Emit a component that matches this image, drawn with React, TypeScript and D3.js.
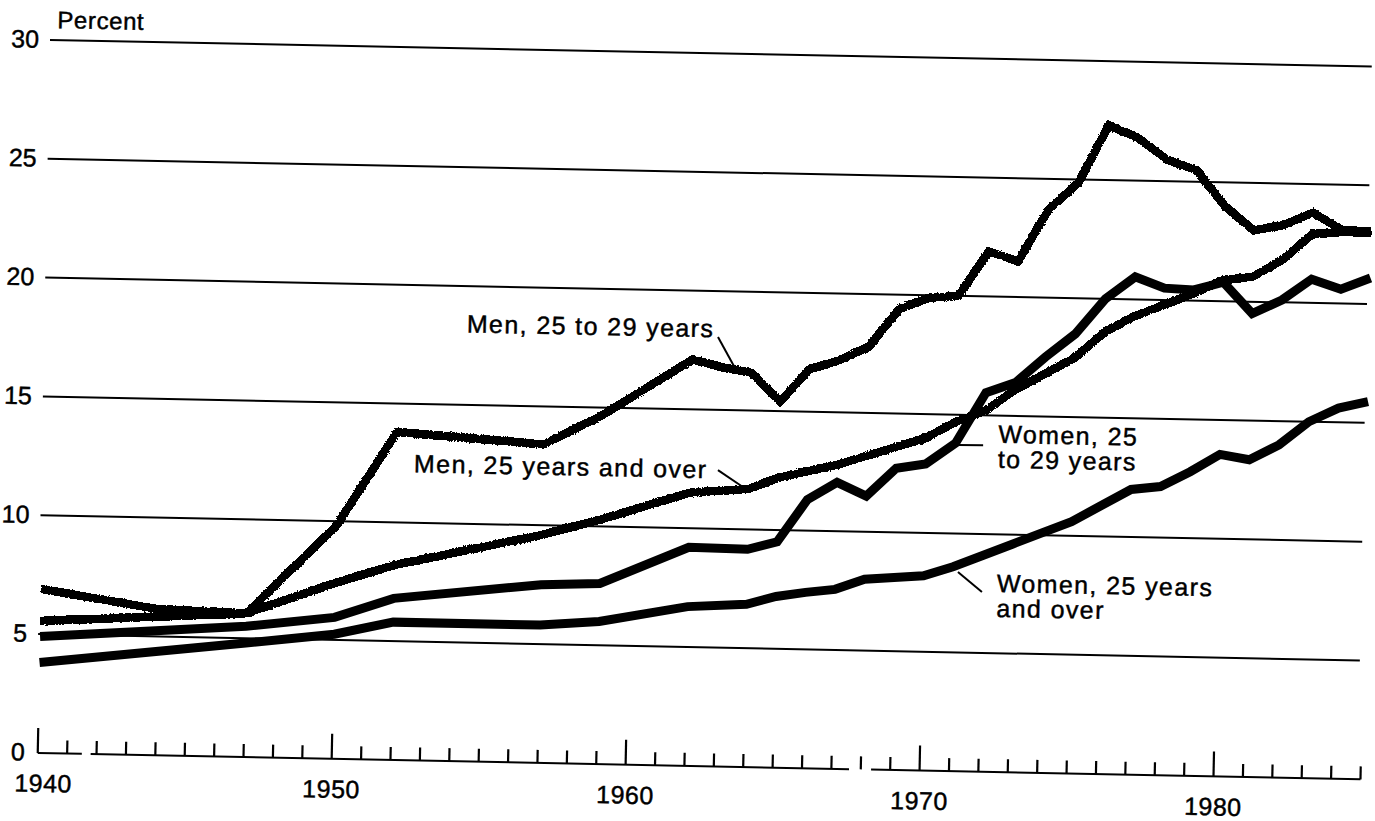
import React from 'react';
import * as d3 from 'd3';

// --- data (percent) ---
const menYoungYears = [1940, 1944, 1947, 1950, 1952, 1957, 1959, 1962, 1963, 1964, 1965, 1966, 1967, 1968, 1969, 1970, 1971, 1972, 1973, 1974, 1975, 1976, 1977, 1978, 1979, 1980, 1981, 1982, 1983, 1984, 1985];
const menYoungPct = [6.9, 6.15, 6.05, 9.8, 13.8, 13.4, 14.7, 17.1, 16.8, 16.6, 15.4, 16.8, 17.2, 17.8, 19.4, 19.9, 20.0, 21.9, 21.5, 23.7, 24.85, 27.3, 26.8, 25.9, 25.5, 24.0, 23.0, 23.26, 23.8, 23.1, 23.05];

const menAllYears = [1940, 1947, 1950, 1952, 1957, 1959, 1962, 1964, 1965, 1966, 1967, 1968, 1969, 1970, 1971, 1972, 1973, 1974, 1975, 1976, 1977, 1978, 1979, 1980, 1981, 1982, 1983, 1984, 1985];
const menAllPct = [5.55, 6.05, 7.4, 8.2, 9.6, 10.3, 11.5, 11.7, 12.2, 12.5, 12.8, 13.2, 13.6, 14.0, 14.7, 15.2, 16.1, 16.8, 17.5, 18.6, 19.3, 19.8, 20.3, 20.9, 21.05, 21.8, 22.9, 23.0, 23.0];

const womenYoungYears = [1940, 1947, 1950, 1952, 1957, 1959, 1962, 1964, 1965, 1966, 1967, 1968, 1969, 1970, 1971, 1972, 1973, 1974, 1975, 1976, 1977, 1978, 1979, 1980, 1981, 1982, 1983, 1984, 1985];
const womenYoungPct = [4.9, 5.5, 5.95, 6.8, 7.5, 7.6, 9.2, 9.16, 9.5, 11.3, 12.05, 11.5, 12.7, 12.9, 13.8, 15.95, 16.4, 17.5, 18.5, 20.0, 20.95, 20.5, 20.45, 20.8, 19.5, 20.1, 21.0, 20.6, 21.1];

const womenAllYears = [1940, 1947, 1950, 1952, 1957, 1959, 1962, 1964, 1965, 1966, 1967, 1968, 1969, 1970, 1971, 1972, 1973, 1974, 1975, 1976, 1977, 1978, 1979, 1980, 1981, 1982, 1983, 1984, 1985];
const womenAllPct = [3.8, 4.8, 5.24, 5.8, 5.8, 6.0, 6.7, 6.85, 7.2, 7.4, 7.55, 8.0, 8.1, 8.2, 8.6, 9.1, 9.6, 10.1, 10.6, 11.3, 12.0, 12.15, 12.8, 13.55, 13.35, 14.0, 15.0, 15.6, 15.9];

const yTicks = [0, 5, 10, 15, 20, 25, 30];
const xLabels = [1940, 1950, 1960, 1970, 1980];
// small breaks in the printed year axis (year ranges)
const axisBreaks: [number, number][] = [[1941.5, 1941.8], [1967.6, 1968.35]];

// annotation anchors in data units
const notes = [
  { lines: ['Men, 25 to 29 years'], year: 1954.3, pct: 18.05, leader: [[1962.85, 18.07], [1963.45, 16.78]] },
  { lines: ['Men, 25 years and over'], year: 1952.6, pct: 12.12, leader: [[1962.94, 12.47], [1963.8, 11.78]] },
  { lines: ['Women, 25', 'to 29 years'], year: 1972.45, pct: 13.85, leader: [[1971.1, 13.73], [1971.94, 13.74]] },
  { lines: ['Women, 25 years', 'and over'], year: 1972.5, pct: 7.58, leader: [[1971.17, 8.38], [1972.0, 7.56]] },
];

const W = 1375;
const H = 821;
const font = '"Liberation Sans", Arial, Helvetica, sans-serif';

const App: React.FC = () => {
  const x = d3.scaleLinear().domain([1940, 1985]).range([52, 1375]);
  const y = d3.scaleLinear().domain([0, 30]).range([753, 40]);

  const line = d3.line<[number, number]>()
    .x(d => x(d[0]))
    .y(d => y(d[1]));

  const zip = (ys: number[], vs: number[]) => ys.map((yr, i) => [yr, vs[i]] as [number, number]);

  const series = [
    { key: 'menYoung', pts: zip(menYoungYears, menYoungPct), rough: true },
    { key: 'menAll', pts: zip(menAllYears, menAllPct), rough: true },
    { key: 'womenYoung', pts: zip(womenYoungYears, womenYoungPct), rough: false },
    { key: 'womenAll', pts: zip(womenAllYears, womenAllPct), rough: false },
  ];

  // baseline split by the breaks
  const base = y(0);
  const segs: [number, number][] = [];
  let start = 1940;
  axisBreaks.forEach(([a, b]) => { segs.push([start, a]); start = b; });
  segs.push([start, 1985]);

  const years = d3.range(1940, 1986);

  // scanned type is a bit heavier than the plain font
  const txt = { fill: '#000', stroke: '#000', strokeWidth: 0.45 };

  return (
    <svg width={W} height={H} style={{ position: 'absolute', left: 0, top: 0, background: '#fff' }}>
      <defs>
        <filter id="rough" filterUnits="userSpaceOnUse" x={0} y={0} width={W} height={H}>
          <feTurbulence type="fractalNoise" baseFrequency="0.9" numOctaves={1} seed={3} result="n" />
          <feDisplacementMap in="SourceGraphic" in2="n" scale={3.5} xChannelSelector="R" yChannelSelector="G" result="d" />
          <feComponentTransfer in="d">
            <feFuncA type="discrete" tableValues="0 1 1" />
          </feComponentTransfer>
        </filter>
      </defs>
      {/* the scan is tilted a little, so the whole figure is too */}
      <g transform="rotate(1.146, 50, 40)" fontFamily={font}>
        {/* gridlines */}
        {yTicks.filter(t => t > 0).map(t => (
          <line key={t} x1={x(1940) - 2} x2={x(1985) - 3} y1={y(t)} y2={y(t)} stroke="#000" strokeWidth={2} />
        ))}
        {/* y labels */}
        {yTicks.map(t => (
          <text key={t} x={39} y={y(t) + 8} textAnchor="end" fontSize={25} {...txt}>{t}</text>
        ))}
        <text x={57} y={28} fontSize={24} letterSpacing={0.6} {...txt}>Percent</text>

        {/* year axis */}
        {segs.map(([a, b], i) => (
          <line key={i} x1={x(a)} x2={x(b)} y1={base} y2={base} stroke="#000" strokeWidth={2} />
        ))}
        {years.map(yr => (
          <line key={yr} x1={x(yr)} x2={x(yr)} y1={base} y2={base - (yr % 10 === 0 ? 25 : 13)}
            stroke="#000" strokeWidth={2.2} />
        ))}
        {xLabels.map(yr => (
          <text key={yr} x={x(yr) + (yr === 1940 ? 6 : 0)} y={792} textAnchor="middle" fontSize={25}
            letterSpacing={0.5} {...txt}>{yr}</text>
        ))}

        {/* series */}
        {series.map(s => (
          <path key={s.key} d={line(s.pts) ?? ''} fill="none" stroke="#000"
            strokeWidth={s.rough ? 8 : 9} strokeLinejoin="miter" strokeMiterlimit={3}
            filter={s.rough ? 'url(#rough)' : undefined} />
        ))}

        {/* labels with leaders */}
        {notes.map((n, i) => (
          <g key={i}>
            <line x1={x(n.leader[0][0])} y1={y(n.leader[0][1])} x2={x(n.leader[1][0])} y2={y(n.leader[1][1])}
              stroke="#000" strokeWidth={2} />
            {n.lines.map((t, j) => (
              <text key={j} x={x(n.year)} y={y(n.pct) + j * 25} fontSize={25} letterSpacing={1.4} {...txt}>{t}</text>
            ))}
          </g>
        ))}
      </g>
    </svg>
  );
};

export default App;
